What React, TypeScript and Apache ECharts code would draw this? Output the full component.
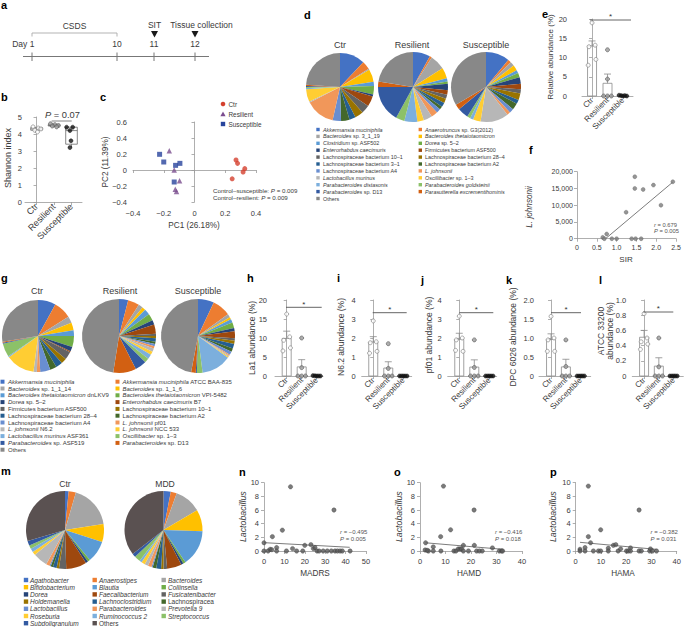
import React, { useEffect, useRef } from "react";
import * as echarts from "echarts";

const FONT = "'Liberation Sans', Arial, Helvetica, sans-serif";
const TXT = "#3a3a3a";
const AX = "#9a9a9a";

// ---------- shared ----------
const groups = ["Ctr", "Resilient", "Susceptible"];
const jitCtr = [0, 0.2, -0.2, -0.25, 0.25];
const jitRes = [0, 0, -0.25, 0, 0.25];
const jitSus = [-0.25, -0.12, 0, 0.12, 0.25];

// ---------- a: timeline ----------
const timelineLabels = ["Day 1", "10", "11", "12"];

// ---------- b: Shannon ----------
const shannonCtr = [4.42, 4.35, 4.3, 4.22, 4.12];
const shannonRes = [4.6, 4.55, 4.5, 4.47, 4.42];
const shannonSus = [4.4, 4.4, 4.2, 3.6, 3.2];
const shannonBoxCtr = [4.12, 4.22, 4.3, 4.38, 4.42];
const shannonBoxRes = [4.42, 4.47, 4.5, 4.55, 4.6];
const shannonBoxSus = [3.2, 3.4, 4.2, 4.4, 4.4];
const shJitCtr = [-0.2, 0.1, 0.25, -0.1, 0.05];
const shJitRes = [-0.2, 0.05, 0.25, -0.1, 0.15];
const shJitSus = [-0.28, 0.07, -0.09, -0.03, -0.09];

// ---------- c: PCoA ----------
const pcCtr = [[0.27, 0.125], [0.28, 0.083], [0.327, 0.017], [0.316, -0.025], [0.245, -0.11]];
const pcRes = [[-0.164, 0.24], [-0.132, 0.0], [-0.097, -0.134], [-0.125, -0.24], [-0.117, -0.27]];
const pcSus = [[-0.227, 0.196], [-0.2, 0.1], [-0.123, 0.058], [-0.095, 0.083], [-0.132, -0.15]];

// ---------- palettes ----------
const pal = ["#4472C4", "#ED7D31", "#A5A5A5", "#FFC000", "#5B9BD5", "#70AD47", "#264478", "#9E480E", "#636363", "#997300", "#255E91", "#43682B", "#698ED0", "#F1975A", "#B7B7B7", "#FFCD33", "#7CAFDD", "#8CC168", "#335AA1", "#D26012", "#888888"];
const palM = ["#4472C4", "#ED7D31", "#A5A5A5", "#FFC000", "#5B9BD5", "#70AD47", "#264478", "#9E480E", "#636363", "#997300", "#255E91", "#43682B", "#698ED0", "#F1975A", "#B7B7B7", "#FFCD33", "#7CAFDD", "#8CC168", "#335AA1", "#5A5151"];

// ---------- d: species pies ----------
const dNames = ["*Akkermansia muciniphila*", "*Anaerotruncus* sp. G3(2012)", "*Bacteroides* sp. 3_1_19", "*Bacteroides thetaiotaomicron*", "*Clostridium* sp. ASF502", "*Dorea* sp. 5–2", "*Enterorhabdus caecimuris*", "Firmicutes bacterium ASF500", "Lachnospiraceae bacterium 10–1", "Lachnospiraceae bacterium 28–4", "Lachnospiraceae bacterium 3–1", "Lachnospiraceae bacterium A2", "Lachnospiraceae bacterium A4", "*L. johnsonii*", "*Lactobacillus murinus*", "*Oscillibacter* sp. 1–3", "*Parabacteroides distasonis*", "*Parabacteroides goldsteinii*", "*Parabacteroides* sp. D13", "*Parasutterella excrementihominis*", "Others"];
const dCtr = [12, 4, 0.5, 6, 2, 4, 1, 5, 4, 4, 3, 4, 4, 14, 0.5, 6, 0.5, 0.5, 0.5, 0.5, 24];
const dRes = [8, 1, 7, 5, 1.5, 1, 3, 2, 2, 2, 2, 1.5, 2, 3, 4, 3, 6, 4, 17, 2.5, 22.5];
const dSus = [11, 1.5, 2, 2.5, 1.5, 2, 3, 2.5, 2, 3, 2, 3, 2, 1.5, 13, 3.5, 1.5, 1.5, 5, 2.5, 33.5];

// ---------- e: relative abundance ----------
const relMean = [13, 3.3, 0.1];
const relSem = [1.3, 2.4, 0.05];
const relCtr = [19, 13.2, 12.8, 8, 9.5];
const relRes = [12, 4.4, 0, 0, 0];
const relSus = [0.2, 0.1, 0, 0.1, 0];

// ---------- f: SIR correlation ----------
const sirPts = [[1.46, 18500], [1.46, 15000], [1.67, 14700], [1.93, 16000], [2.42, 17000], [2.12, 10000], [1.24, 7900], [0.75, 1400], [0.65, 400], [0.69, 0], [0.88, 0], [1.0, 0], [1.38, 0], [1.48, 0], [1.62, 0]];
const sirFit = [[0.72, 0], [2.42, 16900]];

// ---------- g: strain pies ----------
const gNames = ["*Akkermansia muciniphila*", "*Akkermansia muciniphila* ATCC BAA-835", "*Bacteroides* sp. 1_1_14", "*Bacteroides* sp. 1_1_6", "*Bacteroides thetaiotaomicron* dnLKV9", "*Bacteroides thetaiotaomicron* VPI-5482", "*Dorea* sp. 5–2", "*Enterorhabdus caecimuris* B7", "Firmicutes bacterium ASF500", "Lachnospiraceae bacterium 10–1", "Lachnospiraceae bacterium 28–4", "Lachnospiraceae bacterium A2", "Lachnospiraceae bacterium A4", "*L. johnsonii* pf01", "*L. johnsonii* N6.2", "*L. johnsonii* NCC 533", "*Lactobacillus murinus* ASF361", "*Oscillibacter* sp. 1–3", "*Parabacteroides* sp. ASF519", "*Parabacteroides* sp. D13", "Others"];
const gCtr = [8, 8, 3, 3.5, 2.5, 5, 2, 0.5, 3.5, 2.5, 3, 3, 4.5, 1.5, 1.5, 13, 0.5, 6, 0.5, 0.5, 27.5];
const gRes = [4, 5, 2, 1.5, 2.5, 3, 2, 4, 1, 1, 1.5, 1, 1, 1, 1.5, 1.5, 2, 2, 5, 10, 47.5];
const gSus = [7, 8, 1.5, 1, 1.5, 2.5, 1.5, 3, 1, 1.5, 2, 1.5, 1.5, 0.5, 0.5, 0.5, 13, 2.5, 0.5, 2, 47];

// ---------- h-l: strain abundance bars ----------
const laMean = [9.9, 2.4, 0.05], laSem = [1.9, 1.9, 0.02];
const laCtr = [16.3, 10.3, 9.4, 6.6, 7.4], laRes = [10, 2.2, 0, 0, 0], laSus = [0.1, 0.05, 0, 0, 0];
const n62Mean = [1.79, 0.42, 0.01], n62Sem = [0.28, 0.33, 0];
const n62Ctr = [2.9, 1.8, 1.75, 1.2, 1.3], n62Res = [1.7, 0.4, 0, 0, 0], n62Sus = [0, 0, 0, 0, 0];
const pfMean = [1.93, 0.47, 0.01], pfSem = [0.32, 0.38, 0];
const pfCtr = [3.15, 2.0, 1.9, 1.35, 1.3], pfRes = [1.9, 0.45, 0, 0, 0], pfSus = [0, 0, 0, 0, 0];
const dpcMean = [0.96, 0.24, 0], dpcSem = [0.15, 0.2, 0];
const dpcCtr = [1.57, 1.0, 0.95, 0.65, 0.65], dpcRes = [0.95, 0.25, 0, 0, 0], dpcSus = [0, 0, 0, 0, 0];
const atMean = [0.51, 0.13, 0], atSem = [0.09, 0.11, 0];
const atCtr = [0.82, 0.5, 0.45, 0.35, 0.42], atRes = [0.5, 0.12, 0, 0, 0], atSus = [0, 0, 0, 0, 0];

// ---------- m: human genera pies ----------
const mNames = ["*Agathobacter*", "*Anaerostipes*", "*Bacteroides*", "*Bifidobacterium*", "*Blautia*", "*Collinsella*", "*Dorea*", "*Faecalibacterium*", "*Fusicatenibacter*", "*Holdemanella*", "*Lachnoclostridium*", "Lachnospiracea", "*Lactobacillus*", "*Parabacteroides*", "*Prevotella 9*", "*Roseburia*", "*Ruminococcus 2*", "*Streptococcus*", "*Subdoligranulum*", "Others"];
const mCtr = [1.5, 3, 18, 7.5, 9, 1, 1, 8.5, 3, 1, 1.5, 1, 0.5, 1.5, 6, 1.5, 1.5, 1.5, 2, 29.5];
const mMDD = [3, 2.5, 11, 9, 15, 1, 1, 6, 1.5, 1, 2, 1.5, 0.5, 1.5, 1.5, 1.5, 1, 2.5, 1.5, 35.5];

// ---------- n-p: Lactobacillus correlations ----------
const madrs = [[0, 1.2], [0, 0], [2, 0], [3, 0.25], [3.8, 0.2], [4.1, 2.1], [6.2, 0.5], [6.2, 0], [9, 3.05], [11, 0], [13, 9.4], [14, 0.35], [16, 0], [19, 0], [20, 0.83], [23, 0.93], [24.2, 0.35], [25, 0.5], [26, 0], [27, 0], [29, 0], [31, 0], [33, 0], [34.3, 6.0], [34.8, 0], [36, 0], [37.3, 0], [38.4, 0], [42.2, 0]];
const hamd = [[2.2, 1.2], [2, 0.15], [3.3, 0], [2.8, 0.1], [5.2, 0.6], [5.2, 0], [8.1, 2.1], [8.2, 0], [9.2, 9.5], [12, 3.1], [13.3, 0], [14.1, 0], [15, 0.3], [15.7, 0.3], [16.3, 0.3], [17, 0.83], [17, 0], [19, 0], [21.2, 6.0], [21.3, 0.83], [22.2, 0], [23.3, 0], [24.4, 0], [28.4, 0.45], [31.1, 0], [32, 0], [32.4, 0]];
const hama = [[1.7, 0.25], [1.7, 0], [3.7, 0.5], [3.7, 0], [5, 9.5], [5, 2.1], [5.9, 1.2], [7, 0], [9, 0], [9.9, 3.1], [9.9, 0], [12.9, 0.4], [12.9, 0], [14.9, 0.83], [15.9, 0.93], [16.8, 0], [17.8, 0.3], [20.1, 0], [20.8, 0], [21.7, 0.45], [21.7, 0], [25.1, 6.0], [25.1, 0], [26, 0], [29.3, 0], [29.6, 0.3], [30.4, 0], [32, 0]];
const madrsFit = [[0, 1.22], [42, 0.54]];
const hamdFit = [[2.2, 1.2], [32.4, 0.25]];
const hamaFit = [[1.7, 1.27], [32, 0.24]];

// ---------- helpers ----------
const plain = (s: string) => s.split("*").join("");
const rt = (s: string) => s.split("*").map((seg, k) => (seg ? `{${k % 2 ? "i" : "n"}|${seg}}` : "")).join("");
const richDef = (size: number, color: string) => ({
  n: { fontSize: size, fontFamily: FONT, fill: color, color },
  i: { fontSize: size, fontFamily: FONT, fontStyle: "italic", fill: color, color },
});
const fmtInt = (v: number) => String(Math.round(v));
const fmt1 = (v: number) => (Math.abs(v) < 1e-9 ? "0" : (v < 0 ? "−" : "") + Math.abs(v).toFixed(1));
const fmtK = (v: number) => Math.round(v).toLocaleString("en-US");

function buildOption() {
  const grid: any[] = [];
  const xAxis: any[] = [];
  const yAxis: any[] = [];
  const series: any[] = [];
  const graphic: any[] = [];

  const axisLine = { show: true, lineStyle: { color: AX, width: 0.8 } };
  const tick = (cv?: number[]) => ({ show: true, length: 3, lineStyle: { color: AX, width: 0.8 }, ...(cv ? { customValues: cv } : {}) });
  const lab = (size: number, margin: number, extra: any = {}) => ({ color: TXT, fontSize: size, fontFamily: FONT, margin, ...extra });

  const addGrid = (left: number, top: number, width: number, height: number, xa: any, ya: any) => {
    const gi = grid.length;
    grid.push({ left, top, width, height });
    xAxis.push({ gridIndex: gi, type: "value", axisLine, splitLine: { show: false }, ...xa });
    yAxis.push({ gridIndex: gi, type: "value", axisLine, splitLine: { show: false }, ...ya });
    return gi;
  };
  const catX = (min: number, max: number, size: number) => ({
    min, max, axisTick: tick([0, 1, 2]),
    axisLabel: lab(size, 3, { customValues: [0, 1, 2], rotate: 45, formatter: (v: number) => groups[Math.round(v)] ?? "" }),
  });
  const valAx = (min: number, max: number, interval: number, fmt: any, margin: number, size = 7) => ({
    min, max, interval, axisTick: tick(), axisLabel: lab(size, margin, { formatter: fmt }),
  });

  const text = (x: number, y: number, s: string, size: number, o: any = {}) =>
    graphic.push({
      type: "text", x, y, rotation: o.rot || 0, silent: true, z: 100,
      style: {
        text: o.rich ? rt(s) : s,
        rich: o.rich ? richDef(size, o.color || TXT) : undefined,
        fontSize: size, fontFamily: FONT, fill: o.color || TXT,
        fontWeight: o.bold ? "bold" : "normal", fontStyle: o.italic ? "italic" : "normal",
        align: o.align || "center", verticalAlign: o.va || "middle", lineHeight: o.lh,
      },
    });
  const gline = (x1: number, y1: number, x2: number, y2: number, color = "#6a6a6a", w = 0.9) =>
    graphic.push({ type: "line", silent: true, z: 100, shape: { x1, y1, x2, y2 }, style: { stroke: color, lineWidth: w } });
  const sig = (x1: number, x2: number, y: number) => {
    gline(x1, y, x2, y, "#555", 0.9);
    text((x1 + x2) / 2, y - 3.2, "*", 8, { color: "#333" });
  };

  const ptStyle = [
    { color: "#ffffff", borderColor: "#7a7a7a", borderWidth: 0.8 },
    { color: "#9a9a9a", borderColor: "#5a5a5a", borderWidth: 0.8 },
    { color: "#111111", borderColor: "#111111", borderWidth: 0.6 },
  ];
  const scatter = (gi: number, data: any[], style: any, size = 4.2, symbol = "circle") =>
    series.push({ type: "scatter", xAxisIndex: gi, yAxisIndex: gi, data, symbol, symbolSize: size, itemStyle: style, silent: true, z: 5 });
  const fitLine = (gi: number, data: any[]) =>
    series.push({ type: "line", xAxisIndex: gi, yAxisIndex: gi, data, symbol: "none", lineStyle: { color: "#6d6d6d", width: 0.9 }, silent: true, z: 3 });

  const barRender = (_p: any, api: any) => {
    const x = api.value(0), m = api.value(1), s = api.value(2);
    const base = api.coord([x, 0]), top = api.coord([x, m]), err = api.coord([x, m + s]);
    const w = 9;
    const st = { stroke: "#8a8a8a", lineWidth: 0.8, fill: "rgba(0,0,0,0)" };
    const ch: any[] = [];
    if (base[1] - top[1] > 0.6) ch.push({ type: "rect", shape: { x: base[0] - w / 2, y: top[1], width: w, height: base[1] - top[1] }, style: st });
    if (top[1] - err[1] > 0.6) {
      ch.push({ type: "line", shape: { x1: top[0], y1: top[1], x2: err[0], y2: err[1] }, style: st });
      ch.push({ type: "line", shape: { x1: err[0] - 3.5, y1: err[1], x2: err[0] + 3.5, y2: err[1] }, style: st });
    }
    return { type: "group", children: ch };
  };
  const barPanel = (gi: number, means: number[], sems: number[], ctr: number[], res: number[], sus: number[]) => {
    series.push({ type: "custom", xAxisIndex: gi, yAxisIndex: gi, data: means.map((m, k) => [k, m, sems[k]]), encode: { x: 0, y: 1 }, renderItem: barRender, silent: true, z: 2 });
    scatter(gi, ctr.map((v, k) => [0 + jitCtr[k], v]), ptStyle[0], 4);
    scatter(gi, res.map((v, k) => [1 + jitRes[k], v]), ptStyle[1], 4);
    scatter(gi, sus.map((v, k) => [2 + jitSus[k], v]), ptStyle[2], 4);
  };

  // ---------- panel letters ----------
  const letters: [string, number, number][] = [["a", 1, 5], ["b", 1, 97], ["c", 100, 97], ["d", 304, 15], ["e", 542, 14], ["f", 529, 150], ["g", 1, 278], ["h", 247, 278], ["i", 337, 278], ["j", 421, 280], ["k", 506, 280], ["l", 599, 280], ["m", 1, 471], ["n", 239, 472], ["o", 394, 472], ["p", 550, 472]];
  letters.forEach(([s, x, y]) => text(x, y, s, 11, { bold: true, align: "left", color: "#000" }));

  // ---------- a: timeline ----------
  const tlX = [32, 117, 154, 195];
  gline(23, 56.5, 209, 56.5, "#777", 1);
  tlX.forEach((x, k) => {
    gline(x, 52.5, x, 61, "#777", 1);
    if (k === 0) text(x + 2.4, 44, timelineLabels[k], 8.5, { align: "right" });
    else text(x, 44, timelineLabels[k], 8.5);
  });
  graphic.push({ type: "polyline", silent: true, shape: { points: [[32, 36.5], [32, 33], [117, 33], [117, 36.5]] }, style: { stroke: "#aaa", lineWidth: 0.9, fill: null } });
  text(74.5, 26, "CSDS", 8.5);
  text(154.5, 25, "SIT", 8.5);
  text(201.5, 25, "Tissue collection", 8.5);
  graphic.push({ type: "polygon", silent: true, shape: { points: [[151, 31], [158, 31], [154.5, 37.5]] }, style: { fill: "#1a1a1a" } });
  graphic.push({ type: "polygon", silent: true, shape: { points: [[191.5, 31], [198.5, 31], [195, 37.5]] }, style: { fill: "#1a1a1a" } });

  // ---------- b: Shannon boxplot ----------
  const gb = addGrid(25, 117, 57, 85, catX(-0.66, 2.6, 9), valAx(0, 5, 1, fmtInt, 3, 7.5));
  const boxRender = (_p: any, api: any) => {
    const x = api.value(0);
    const v = [1, 2, 3, 4, 5].map((k) => api.coord([x, api.value(k)]));
    const cx = v[0][0], w = 11.6;
    const st = { stroke: "#6a6a6a", lineWidth: 0.8, fill: "rgba(0,0,0,0)" };
    return {
      type: "group", children: [
        { type: "rect", shape: { x: cx - w / 2, y: v[3][1], width: w, height: v[1][1] - v[3][1] }, style: st },
        { type: "line", shape: { x1: cx - w / 2, y1: v[2][1], x2: cx + w / 2, y2: v[2][1] }, style: st },
        { type: "line", shape: { x1: cx, y1: v[3][1], x2: cx, y2: v[4][1] }, style: st },
        { type: "line", shape: { x1: cx, y1: v[1][1], x2: cx, y2: v[0][1] }, style: st },
      ],
    };
  };
  series.push({ type: "custom", xAxisIndex: gb, yAxisIndex: gb, data: [[0, ...shannonBoxCtr], [1, ...shannonBoxRes], [2, ...shannonBoxSus]], encode: { x: 0, y: [1, 2, 3, 4, 5] }, renderItem: boxRender, silent: true, z: 2 });
  scatter(gb, shannonCtr.map((v, k) => [0 + shJitCtr[k], v]), ptStyle[0], 4);
  scatter(gb, shannonRes.map((v, k) => [1 + shJitRes[k], v]), ptStyle[1], 4);
  scatter(gb, shannonSus.map((v, k) => [2 + shJitSus[k], v]), ptStyle[2], 4);
  text(8, 158, "Shannon index", 9, { rot: Math.PI / 2 });
  text(62.5, 115, "*P* = 0.07", 9.3, { rich: true });
  gline(51.7, 121, 71.7, 121, "#777", 0.9);

  // ---------- c: PCoA ----------
  const gc = addGrid(133, 122, 123, 80, valAx(-0.4, 0.4, 0.2, fmt1, 7, 7.5), valAx(-0.4, 0.6, 0.2, fmt1, 6, 7.5));
  scatter(gc, pcCtr, { color: "#d4402e" }, 5, "circle");
  scatter(gc, pcRes, { color: "#7b4d8f" }, 5.5, "triangle");
  scatter(gc, pcSus, { color: "#28449c" }, 5, "rect");
  text(194, 225.5, "PC1 (26.18%)", 8.2);
  text(105, 162, "PC2 (11.39%)", 8.2, { rot: Math.PI / 2 });
  graphic.push({ type: "circle", silent: true, shape: { cx: 223, cy: 104, r: 2.3 }, style: { fill: "#d4402e" } });
  graphic.push({ type: "polygon", silent: true, shape: { points: [[223, 111.6], [225.6, 116.2], [220.4, 116.2]] }, style: { fill: "#7b4d8f" } });
  graphic.push({ type: "rect", silent: true, shape: { x: 220.8, y: 121.8, width: 4.4, height: 4.4 }, style: { fill: "#28449c" } });
  ["Ctr", "Resilient", "Susceptible"].forEach((s, k) => text(228.5, 104 + k * 10, s, 6.4, { align: "left" }));
  text(213, 190, "Control–susceptible: *P* = 0.009", 6.2, { rich: true, align: "left" });
  text(213, 197, "Control–resilient: *P* = 0.009", 6.2, { rich: true, align: "left" });

  // ---------- pies ----------
  const pie = (cx: number, cy: number, r: number, names: string[], colors: string[], values: number[]) =>
    series.push({
      type: "pie", center: [cx, cy], radius: r, startAngle: 90, clockwise: true, silent: true,
      label: { show: false }, labelLine: { show: false }, emphasis: { disabled: true },
      itemStyle: { borderWidth: 0 },
      data: values.map((v, k) => ({ name: plain(names[k]), value: v, itemStyle: { color: colors[k] } })),
    });
  const legend = (names: string[], colors: string[], mx: number[], tx: number[], y0: number, dy: number, size: number, box: number) => {
    const cols = mx.length;
    names.forEach((nm, k) => {
      const col = k % cols, row = Math.floor(k / cols);
      const y = y0 + row * dy;
      graphic.push({ type: "rect", silent: true, shape: { x: mx[col], y: y - box / 2, width: box, height: box }, style: { fill: colors[k] } });
      text(tx[col], y, nm, size, { rich: true, align: "left" });
    });
  };

  // d
  pie(340, 87, 34, dNames, pal, dCtr);
  pie(413, 87, 35, dNames, pal, dRes);
  pie(486, 87, 35, dNames, pal, dSus);
  text(340, 45, "Ctr", 9);
  text(412, 45, "Resilient", 9);
  text(486, 45, "Susceptible", 9);
  legend(dNames, pal, [316.3, 418.6], [323, 425], 129.5, 6.9, 5.4, 3.4);

  // g
  pie(38, 336, 36, gNames, pal, gCtr);
  pie(119, 336, 37, gNames, pal, gRes);
  pie(198, 336, 37, gNames, pal, gSus);
  text(37, 291, "Ctr", 9);
  text(120, 291, "Resilient", 9);
  text(198, 291, "Susceptible", 9);
  legend(gNames, pal, [0.5, 115.5], [8, 122.5], 381.7, 6.8, 6, 4);

  // m
  pie(65, 530, 39, mNames, palM, mCtr);
  pie(163.5, 530, 39, mNames, palM, mMDD);
  text(65, 484, "Ctr", 8.6);
  text(165, 484, "MDD", 8.6);
  legend(mNames, palM, [23.8, 92.5, 161.5], [30, 99, 168], 580, 7.2, 6.5, 4.4);

  // ---------- e ----------
  const ge = addGrid(582, 19, 51, 77, catX(-0.65, 2.65, 8), valAx(0, 20, 5, fmtInt, 15, 7.5));
  barPanel(ge, relMean, relSem, relCtr, relRes, relSus);
  text(550.5, 57, "Relative abundance (%)", 8, { rot: Math.PI / 2 });
  sig(590, 631, 20);

  // ---------- f ----------
  const gf = addGrid(577, 171.7, 99, 67, valAx(0, 2.5, 0.5, fmt1, 5, 7), valAx(0, 20000, 5000, fmtK, 4, 7));
  fitLine(gf, sirFit);
  scatter(gf, sirPts, { color: "#7a7a7a", borderColor: "#555", borderWidth: 0.4 }, 4);
  text(626, 259, "SIR", 8);
  text(529, 207, "*L. johnsonii*", 8.2, { rot: Math.PI / 2, rich: true });
  text(654, 224.5, "*r* = 0.679", 5.8, { rich: true, align: "left", color: "#555" });
  text(654, 230.5, "*P* = 0.005", 5.8, { rich: true, align: "left", color: "#555" });

  // ---------- h-l ----------
  const gh = addGrid(275, 300, 48, 76, catX(-0.78, 2.42, 8), valAx(0, 20, 5, fmtInt, 8, 7.5));
  barPanel(gh, laMean, laSem, laCtr, laRes, laSus);
  text(252, 338, "La1 abundance (%)", 8.5, { rot: Math.PI / 2 });
  sig(286, 321.7, 307.3);

  const gi2 = addGrid(361.7, 300, 50, 76, catX(-0.77, 2.56, 8), valAx(0, 4, 1, fmtInt, 6, 7.5));
  barPanel(gi2, n62Mean, n62Sem, n62Ctr, n62Res, n62Sus);
  text(341, 337, "N6.2 abundance (%)", 8.5, { rot: Math.PI / 2 });
  sig(372.7, 406.7, 312.7);

  const gj = addGrid(447.7, 300, 49, 76, catX(-0.77, 2.49, 8), valAx(0, 4, 1, fmtInt, 6, 7.5));
  barPanel(gj, pfMean, pfSem, pfCtr, pfRes, pfSus);
  text(428.7, 335, "pf01 abundance (%)", 8.5, { rot: Math.PI / 2 });
  sig(459.3, 493.3, 312.7);

  const gk = addGrid(539, 300, 51.7, 76, catX(-0.81, 2.67, 8), valAx(0, 2, 0.5, fmt1, 5, 7.5));
  barPanel(gk, dpcMean, dpcSem, dpcCtr, dpcRes, dpcSus);
  text(513, 337, "DPC 6026 abundance (%)", 8.5, { rot: Math.PI / 2 });
  sig(551, 581, 312.7);

  const gl = addGrid(632.3, 300, 51, 76, catX(-0.8, 2.66, 8), valAx(0, 1, 0.2, fmt1, 6, 7.5));
  barPanel(gl, atMean, atSem, atCtr, atRes, atSus);
  text(605.5, 331, "ATCC 33200\nabundance (%)", 8.5, { rot: Math.PI / 2, lh: 9.5 });
  sig(643.3, 673.3, 312);

  // ---------- n-p ----------
  const corr = (left: number, width: number, xmax: number, pts: number[][], fit: number[][], xt: string, yx: number, xtx: number, r: string, p: string, ax: number) => {
    const g = addGrid(left, 482.7, width, 68.3, valAx(0, xmax, 10, fmtInt, 6, 7.5), valAx(0, 10, 2, fmtInt, 5, 7.5));
    fitLine(g, fit);
    scatter(g, pts, { color: "#595959", borderColor: "#333", borderWidth: 0.4 }, 4.4);
    text(xtx, 573.5, xt, 8.2);
    text(yx, 516.7, "*Lactobacillus*", 8.8, { rot: Math.PI / 2, rich: true });
    text(ax, 532.3, `*r* = ${r}`, 6, { rich: true, align: "left", color: "#555" });
    text(ax, 539, `*P* = ${p}`, 6, { rich: true, align: "left", color: "#555" });
  };
  corr(264, 102, 50, madrs, madrsFit, "MADRS", 242.7, 315, "−0.495", "0.005", 340);
  corr(420, 102, 40, hamd, hamdFit, "HAMD", 398.5, 469, "−0.416", "0.018", 495);
  corr(575.7, 101, 40, hama, hamaFit, "HAMA", 553, 623, "−0.382", "0.031", 650.5);

  return {
    animation: false,
    backgroundColor: "#ffffff",
    textStyle: { fontFamily: FONT },
    grid, xAxis, yAxis, series, graphic,
  };
}

export default function App() {
  const ref = useRef<HTMLDivElement>(null);
  useEffect(() => {
    const chart = echarts.init(ref.current!, null, { renderer: "svg" });
    chart.setOption(buildOption() as any);
    return () => chart.dispose();
  }, []);
  return (
    <div
      ref={ref}
      style={{ position: "fixed", left: 0, top: 0, width: 685, height: 627, background: "#fff" }}
    />
  );
}
